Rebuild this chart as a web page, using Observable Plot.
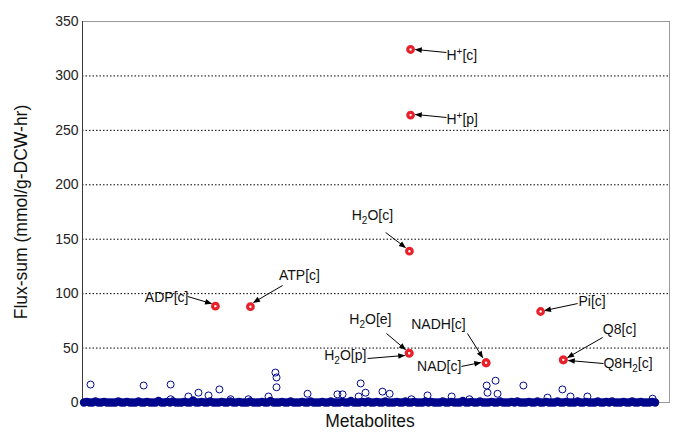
<!DOCTYPE html>
<html>
<head>
<meta charset="utf-8">
<script src="https://cdn.jsdelivr.net/npm/d3@7"></script>
<script src="https://cdn.jsdelivr.net/npm/@observablehq/plot@0.6"></script>
<style>
  html, body { margin: 0; padding: 0; background: #fff; }
  #chart svg { font-family: "Liberation Sans", Arial, sans-serif; }
</style>
</head>
<body>
<div id="chart"></div>
<script>
// ---- data ----
// near-zero flux-sums of the bulk of metabolites, in metabolite order
const bandFlux = [
  0,0.5,0,0,1,0,0,0.5,0,0, 0,0,1,0,0,0.5,0,0,0,1,
  0,0,0.5,0,0,0,1.5,0,0,0.5, 0,1,0,0,0,0.5,0,0,2,0,
  0,0.5,0,0,1,0,0,0,0.5,0, 0,1,0,0,0.5,0,0,0,1,0,
  0,0,0.5,0,0,1.5,0,0,0,0.5, 0,0,1,0,0,0,0.5,0,0,1,
  0,0,0,0.5,0,0,1,0,0,0, 0.5,0,0,1.5,0,0,0,0.5,0,1,
  0,0,0.5,0,0,1,0,0,0,0.5, 0,0,1,0,0,0.5,0,0,0,1,
  0,0.5,0,0,0,1,0,0,0.5,0, 0,0,1.5,0,0,0.5,0,0,1,0,
  0,0,0.5,0,0,1,0,0,0,0.5, 0,1,0,0,0,0.5,0,0,1,0,
  0,0.5,0,0,0,1,0,0,0.5,0, 0,0,1,0,0,0.5,0,0,0,1,
  0,0,0.5,0,1,0,0,0,0.5,0, 0,1,0,0,0.5,0,0,0,0.5,0
];

// small but visible flux-sums
const lowIdx  = [2.3,20.8,30.2,30.2,36.4,39.9,43.4,47.2,51.1,57.3,64.3,66.7,67.1,67.1,77.9,88.3,90.1,96.4,98.1,95.7,104.0,106.5,114.1,119.7,128.1,134.3,140.3,143.4,140.6,144.1,153.1,161.5,166.7,169.5,175.4,198.1];
const lowFlux = [16.5,15.6,16.5,3,5.5,9,6.5,12,3,3,5.5,27.5,23,14,8,7.5,7.5,17.5,9,5.5,10,8,3,6.5,5.5,3,15.6,20,9,8,15.6,4.5,12,5.5,5.5,3.5];

// high flux-sum metabolites (highlighted)
const hubNames = ["ADP[c]","ATP[c]","H^+[c]","H^+[p]","H_2O[c]","H_2O[e]","H_2O[p]","NAD[c]","NADH[c]","Pi[c]","Q8[c]","Q8H_2[c]"];
const hubIdx   = [45.8, 58.0, 113.8, 113.8, 113.4, 113.3, 113.3, 140.1, 140.1, 159.1, 167.0, 167.0];
const hubFlux  = [88.5, 88, 324.3, 264, 139, 45.3, 45.3, 36.5, 36.5, 83.6, 39.2, 39.2];

// annotation placement (data units): label anchor point and arrow start/end
const annX  = [36.4, 75.1, 126.3, 126.3, 100.5, 99.8, 98.4, 131.5, 123.5, 172.3, 186.6, 181.0];
const annY  = [96.5, 116.7, 318.8, 260, 171.8, 76.2, 43.2, 33.1, 71.7, 92.8, 67.1, 35.8];
const annAnchor = ["end","middle","start","start","middle","middle","end","end","middle","start","middle","start"];
const arrX1 = [36.1, 69.2, 126.3, 126.3, 105.1, 105.4, 98.8, 131.5, 133.6, 172.0, 180.7, 181.0];
const arrY1 = [97.4, 107.5, 321.5, 261.8, 156.2, 63.4, 40.4, 33.1, 63.4, 90.9, 59.7, 35.8];
const arrX2 = [44.4, 59.1, 115.5, 115.5, 112.0, 112.0, 111.7, 138.2, 138.9, 160.5, 168.5, 168.8];
const arrY2 = [90.9, 91.9, 324.3, 264.6, 142.4, 48.7, 43.2, 36.7, 41.3, 84.5, 41.3, 38.6];

const yTicks = [0, 50, 100, 150, 200, 250, 300, 350];
const gridLines = [50, 100, 150, 200, 250, 300];

// ---- tables ----
const band = bandFlux.map((v, i) => ({idx: i, flux: v}));
const low = lowIdx.map((d, i) => ({idx: d, flux: lowFlux[i]}));
const hubs = hubNames.map((n, i) => ({name: n, idx: hubIdx[i], flux: hubFlux[i]}));
const ann = hubNames.map((n, i) => ({
  name: n, x: annX[i], y: annY[i], anchor: annAnchor[i],
  x1: arrX1[i], y1: arrY1[i], x2: arrX2[i], y2: arrY2[i]
}));

const navy = "#00088c";
const red = "#e8202a";

const chart = Plot.plot({
  width: 685,
  height: 443,
  marginLeft: 82,
  marginRight: 16,
  marginTop: 21,
  marginBottom: 41,
  style: {background: "#fff", fontFamily: "'Liberation Sans', Arial, sans-serif"},
  x: {domain: [-0.5, 204], axis: null},
  y: {domain: [0, 350], axis: null},
  marks: [
    Plot.ruleY(gridLines, {stroke: "#000", strokeWidth: 1, strokeDasharray: "1.5,2"}),
    Plot.frame({stroke: "#9a9a9a"}),
    Plot.ruleX([-0.5], {stroke: "#3a3a3a"}),
    Plot.axisY({ticks: yTicks, tickSize: 0, tickPadding: 4, fontSize: 14, label: null, tickFormat: d => String(d), color: "#222"}),
    Plot.lineY(band, {x: "idx", y: "flux", stroke: navy, strokeWidth: 7, strokeLinecap: "round", strokeLinejoin: "round", clip: false}),
    Plot.dot(band, {x: "idx", y: "flux", r: 3.5, stroke: navy, strokeWidth: 1.3, fill: "none", clip: false}),
    Plot.dot(low, {x: "idx", y: "flux", r: 3.5, stroke: navy, strokeWidth: 1, fill: "none"}),
    Plot.link(ann, {x1: "x1", y1: "y1", x2: "x2", y2: "y2", stroke: "#000", strokeWidth: 1}),
    Plot.dot(hubs, {x: "idx", y: "flux", r: 2.8, stroke: red, strokeWidth: 3.2, fill: "#fff"}),
    Plot.text(ann.filter(d => d.anchor === "start"), {x: "x", y: "y", text: "name", textAnchor: "start", fontSize: 14, fill: "#111"}),
    Plot.text(ann.filter(d => d.anchor === "end"), {x: "x", y: "y", text: "name", textAnchor: "end", fontSize: 14, fill: "#111"}),
    Plot.text(ann.filter(d => d.anchor === "middle"), {x: "x", y: "y", text: "name", textAnchor: "middle", fontSize: 14, fill: "#111"}),
    Plot.text(["Flux-sum (mmol/g-DCW-hr)"], {frameAnchor: "left", textAnchor: "middle", rotate: -90, dx: -61, fontSize: 17.5, fill: "#111", text: d => d}),
    Plot.text(["Metabolites"], {frameAnchor: "bottom", textAnchor: "middle", dy: 24, dx: -6, fontSize: 17.5, fill: "#111", text: d => d})
  ]
});

// filled arrowheads for the annotation links
const ns = "http://www.w3.org/2000/svg";
const defs = document.createElementNS(ns, "defs");
const marker = document.createElementNS(ns, "marker");
marker.setAttribute("id", "ahead");
marker.setAttribute("viewBox", "0 0 10 10");
marker.setAttribute("refX", "9");
marker.setAttribute("refY", "5");
marker.setAttribute("markerWidth", "8");
marker.setAttribute("markerHeight", "7");
marker.setAttribute("markerUnits", "userSpaceOnUse");
marker.setAttribute("orient", "auto");
const mp = document.createElementNS(ns, "path");
mp.setAttribute("d", "M0,1 L10,5 L0,9 z");
mp.setAttribute("fill", "#000");
marker.appendChild(mp);
defs.appendChild(marker);
chart.insertBefore(defs, chart.firstChild);
chart.querySelectorAll('g[aria-label="link"] path').forEach(p => p.setAttribute("marker-end", "url(#ahead)"));

// sub/superscripts in labels
chart.querySelectorAll('g[aria-label="text"] text').forEach(t => {
  const s = t.textContent;
  if (!/[_^]/.test(s)) return;
  t.textContent = "";
  const re = /([_^])(.)/g;
  let last = 0, m;
  const add = (str, kind) => {
    const ts = document.createElementNS(ns, "tspan");
    ts.textContent = str;
    if (kind === "_") { ts.setAttribute("dy", "4"); ts.setAttribute("font-size", "10"); }
    if (kind === "^") { ts.setAttribute("dy", "-5"); ts.setAttribute("font-size", "10"); }
    if (kind === "back_") ts.setAttribute("dy", "-4");
    if (kind === "back^") ts.setAttribute("dy", "5");
    t.appendChild(ts);
  };
  let pending = null;
  while ((m = re.exec(s)) !== null) {
    if (m.index > last) { add(s.slice(last, m.index), pending); pending = null; }
    add(m[2], m[1]);
    pending = "back" + m[1];
    last = m.index + 2;
  }
  if (last < s.length) add(s.slice(last), pending);
});

document.getElementById("chart").appendChild(chart);
</script>
</body>
</html>
